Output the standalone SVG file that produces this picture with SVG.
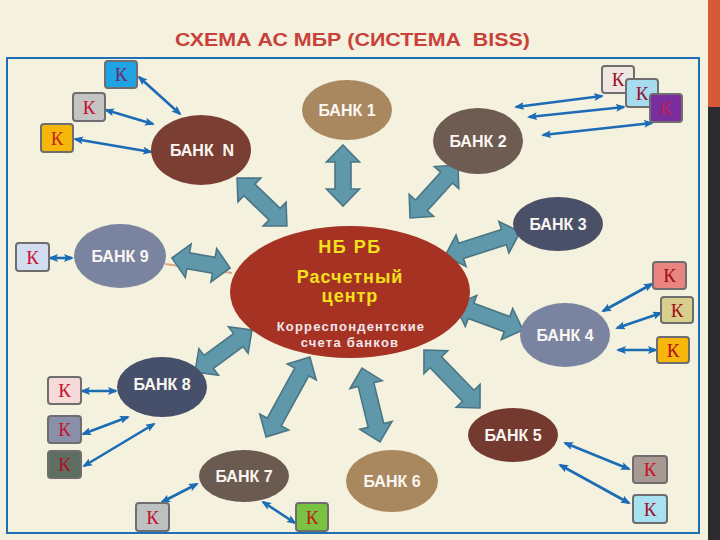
<svg xmlns="http://www.w3.org/2000/svg" width="720" height="540" viewBox="0 0 720 540">
<defs>
<style>
.bank{stroke:none}
.bl{font-family:"Liberation Sans",Arial,sans-serif;font-weight:bold;font-size:16px;fill:#FAF6F2;text-anchor:middle}
.k rect{stroke:#6E6E6E;stroke-width:2}
.k text{font-family:"Liberation Serif","Times New Roman",serif;font-size:19px;text-anchor:middle}
.thin{stroke:#1B6CB5;stroke-width:2.6;fill:none;marker-start:url(#ah);marker-end:url(#ah)}
.big{fill:#5E98AA;stroke:#4A7584;stroke-width:1.6;stroke-linejoin:miter}
</style>
<marker id="ah" viewBox="0 0 10 8" refX="8" refY="4" markerUnits="userSpaceOnUse" markerWidth="10" markerHeight="8" orient="auto-start-reverse">
<path d="M0,0 L10,4 L0,8 L2,4 z" fill="#1B6CB5"/>
</marker>
</defs>
<rect x="0" y="0" width="720" height="540" fill="#F4F1DE"/>
<rect x="708" y="0" width="12" height="107" fill="#D65A38"/>
<rect x="708" y="107" width="12" height="433" fill="#2B2B30"/>
<rect x="7" y="58" width="692" height="475" fill="none" stroke="#1F6FB5" stroke-width="2"/>
<text x="175" y="46" xml:space="preserve" textLength="355" lengthAdjust="spacingAndGlyphs" style="font-family:'Liberation Sans',Arial,sans-serif;font-weight:bold;font-size:18px;fill:#C8413A">СХЕМА АС МБР (СИСТЕМА  BISS)</text>

<g id="connectors">
<line x1="165" y1="264" x2="232" y2="273" stroke="#D8A888" stroke-width="2"/>
<path class="big" transform="translate(343,175.5) rotate(90)" d="M-30.5,0 L-13.5,-16.5 L-13.5,-8 L13.5,-8 L13.5,-16.5 L30.5,0 L13.5,16.5 L13.5,8 L-13.5,8 L-13.5,16.5 Z"/>
<path class="big" transform="translate(262,202) rotate(43.8)" d="M-34.5,0 L-17.5,-16.5 L-17.5,-8 L17.5,-8 L17.5,-16.5 L34.5,0 L17.5,16.5 L17.5,8 L-17.5,8 L-17.5,16.5 Z"/>
<path class="big" transform="translate(434,191.5) rotate(-47.8)" d="M-35.7,0 L-18.7,-16.5 L-18.7,-8 L18.7,-8 L18.7,-16.5 L35.7,0 L18.7,16.5 L18.7,8 L-18.7,8 L-18.7,16.5 Z"/>
<path class="big" transform="translate(201,263) rotate(9.8)" d="M-29.5,0 L-13,-17 L-13,-8 L13,-8 L13,-17 L29.5,0 L13,17 L13,8 L-13,8 L-13,17 Z"/>
<path class="big" transform="translate(482.5,244) rotate(-17.7)" d="M-39.5,0 L-22.5,-16.5 L-22.5,-8 L22.5,-8 L22.5,-16.5 L39.5,0 L22.5,16.5 L22.5,8 L-22.5,8 L-22.5,16.5 Z"/>
<path class="big" transform="translate(489,317.5) rotate(20.2)" d="M-36.2,0 L-19.2,-16.5 L-19.2,-8 L19.2,-8 L19.2,-16.5 L36.2,0 L19.2,16.5 L19.2,8 L-19.2,8 L-19.2,16.5 Z"/>
<path class="big" transform="translate(452,379) rotate(46)" d="M-40.3,0 L-23.3,-16.5 L-23.3,-8 L23.3,-8 L23.3,-16.5 L40.3,0 L23.3,16.5 L23.3,8 L-23.3,8 L-23.3,16.5 Z"/>
<path class="big" transform="translate(371,405) rotate(76.3)" d="M-38,0 L-21,-16.5 L-21,-8 L21,-8 L21,-16.5 L38,0 L21,16.5 L21,8 L-21,8 L-21,16.5 Z"/>
<path class="big" transform="translate(288,397) rotate(118.8)" d="M-45.5,0 L-28.5,-16.5 L-28.5,-8 L28.5,-8 L28.5,-16.5 L45.5,0 L28.5,16.5 L28.5,8 L-28.5,8 L-28.5,16.5 Z"/>
<path class="big" transform="translate(223.5,351) rotate(-36.4)" d="M-35.4,0 L-18.4,-16.5 L-18.4,-8 L18.4,-8 L18.4,-16.5 L35.4,0 L18.4,16.5 L18.4,8 L-18.4,8 L-18.4,16.5 Z"/>

<line class="thin" x1="139" y1="77" x2="180" y2="114"/>
<line class="thin" x1="106" y1="110" x2="153" y2="124"/>
<line class="thin" x1="75" y1="139" x2="151" y2="152"/>
<line class="thin" x1="516" y1="107" x2="602" y2="96"/>
<line class="thin" x1="529" y1="117" x2="624" y2="107"/>
<line class="thin" x1="543" y1="135" x2="652" y2="123"/>
<line class="thin" x1="603" y1="311" x2="652" y2="284"/>
<line class="thin" x1="617" y1="328" x2="661" y2="313"/>
<line class="thin" x1="618" y1="350" x2="656" y2="350"/>
<line class="thin" x1="50" y1="258" x2="72" y2="258"/>
<line class="thin" x1="82" y1="391" x2="116" y2="391"/>
<line class="thin" x1="83" y1="434" x2="128" y2="417"/>
<line class="thin" x1="84" y1="466" x2="154" y2="424"/>
<line class="thin" x1="162" y1="502" x2="197" y2="484"/>
<line class="thin" x1="263" y1="502" x2="295" y2="523"/>
<line class="thin" x1="565" y1="443" x2="629" y2="469"/>
<line class="thin" x1="560" y1="465" x2="629" y2="503"/>
</g>

<g id="bank1"><ellipse class="bank" cx="347" cy="110" rx="45" ry="30" fill="#A9885F"/><text class="bl" x="347" y="116">БАНК 1</text></g>
<g id="bank2"><ellipse class="bank" cx="478" cy="141" rx="45" ry="33" fill="#6E5B51"/><text class="bl" x="478" y="147">БАНК 2</text></g>
<g id="bankN"><ellipse class="bank" cx="201" cy="150" rx="50" ry="35" fill="#7A3E33"/><text class="bl" x="202" y="156" xml:space="preserve">БАНК  N</text></g>
<g id="bank3"><ellipse class="bank" cx="558" cy="224" rx="45" ry="27" fill="#4A5068"/><text class="bl" x="558" y="230">БАНК 3</text></g>
<g id="bank9"><ellipse class="bank" cx="120" cy="256" rx="46" ry="32" fill="#7A84A0"/><text class="bl" x="120" y="262">БАНК 9</text></g>
<g id="bank4"><ellipse class="bank" cx="565" cy="335" rx="45" ry="32" fill="#7A84A0"/><text class="bl" x="565" y="341">БАНК 4</text></g>
<g id="bank8"><ellipse class="bank" cx="162" cy="387" rx="45" ry="30" fill="#46506A"/><text class="bl" x="162" y="390">БАНК 8</text></g>
<g id="bank5"><ellipse class="bank" cx="513" cy="435" rx="45" ry="27" fill="#743A30"/><text class="bl" x="513" y="441">БАНК 5</text></g>
<g id="bank7"><ellipse class="bank" cx="244" cy="476" rx="45" ry="26" fill="#6B5A50"/><text class="bl" x="244" y="482">БАНК 7</text></g>
<g id="bank6"><ellipse class="bank" cx="392" cy="481" rx="46" ry="31" fill="#A9885F"/><text class="bl" x="392" y="487">БАНК 6</text></g>

<g id="center">
<ellipse cx="350" cy="292" rx="120" ry="66" fill="#A63223"/>
<g style="font-family:'Liberation Sans',Arial,sans-serif;font-weight:bold;text-anchor:middle">
<text x="350" y="253" style="font-size:18px;fill:#F2E11B;letter-spacing:1.5px">НБ РБ</text>
<text x="350" y="283" style="font-size:18px;fill:#F2E11B;letter-spacing:1px">Расчетный</text>
<text x="350" y="302" style="font-size:18px;fill:#F2E11B;letter-spacing:1px">центр</text>
<text x="351" y="331" style="font-size:13px;fill:#F2E6EA;letter-spacing:1.2px">Корреспондентские</text>
<text x="350" y="347" style="font-size:13px;fill:#F2E6EA;letter-spacing:1.2px">счета банков</text>
</g>
</g>

<g id="k1" class="k"><rect x="105" y="61" width="32" height="27" rx="3" fill="#1FA3E3"/><text x="121" y="81" fill="#6A2A6A">К</text></g>
<g id="k2" class="k"><rect x="73" y="93" width="32" height="28" rx="3" fill="#C4C4C4"/><text x="89" y="114" fill="#C8102E">К</text></g>
<g id="k3" class="k"><rect x="41" y="124" width="32" height="28" rx="3" fill="#F5B70A"/><text x="57" y="145" fill="#C0281E">К</text></g>
<g id="k4" class="k"><rect x="602" y="66" width="32" height="27" rx="3" fill="#EFE6E2"/><text x="618" y="86" fill="#9A1020">К</text></g>
<g id="k5" class="k"><rect x="626" y="79" width="32" height="28" rx="3" fill="#A6DCF0"/><text x="642" y="100" fill="#9A1030">К</text></g>
<g id="k6" class="k"><rect x="650" y="94" width="32" height="28" rx="3" fill="#7A2E9E"/><text x="666" y="115" fill="#C02050">К</text></g>
<g id="k7" class="k"><rect x="653" y="262" width="33" height="27" rx="3" fill="#E8857E"/><text x="669.5" y="282" fill="#A01018">К</text></g>
<g id="k8" class="k"><rect x="661" y="297" width="32" height="26" rx="3" fill="#D8CE8E"/><text x="677" y="317" fill="#A01018">К</text></g>
<g id="k9" class="k"><rect x="657" y="337" width="32" height="26" rx="3" fill="#F6B60C"/><text x="673" y="357" fill="#B01018">К</text></g>
<g id="k10" class="k"><rect x="16" y="243" width="33" height="28" rx="3" fill="#D2DDF2"/><text x="32.5" y="264" fill="#D0102E">К</text></g>
<g id="k11" class="k"><rect x="48" y="377" width="33" height="27" rx="3" fill="#F6DADA"/><text x="64.5" y="397" fill="#C8102A">К</text></g>
<g id="k12" class="k"><rect x="48" y="416" width="33" height="27" rx="3" fill="#8A90AA"/><text x="64.5" y="436" fill="#C8102A">К</text></g>
<g id="k13" class="k"><rect x="48" y="451" width="33" height="27" rx="3" fill="#5F6E62"/><text x="64.5" y="471" fill="#B01020">К</text></g>
<g id="k14" class="k"><rect x="136" y="503" width="33" height="28" rx="3" fill="#BCC2C2"/><text x="152.5" y="524" fill="#C8102A">К</text></g>
<g id="k15" class="k"><rect x="296" y="503" width="32" height="28" rx="3" fill="#7CC242"/><text x="312" y="524" fill="#C02018">К</text></g>
<g id="k16" class="k"><rect x="633" y="456" width="34" height="27" rx="3" fill="#A89A92"/><text x="650" y="476" fill="#C8102A">К</text></g>
<g id="k17" class="k"><rect x="633" y="495" width="34" height="28" rx="3" fill="#A8E2F0"/><text x="650" y="516" fill="#A01030">К</text></g>
</svg>
